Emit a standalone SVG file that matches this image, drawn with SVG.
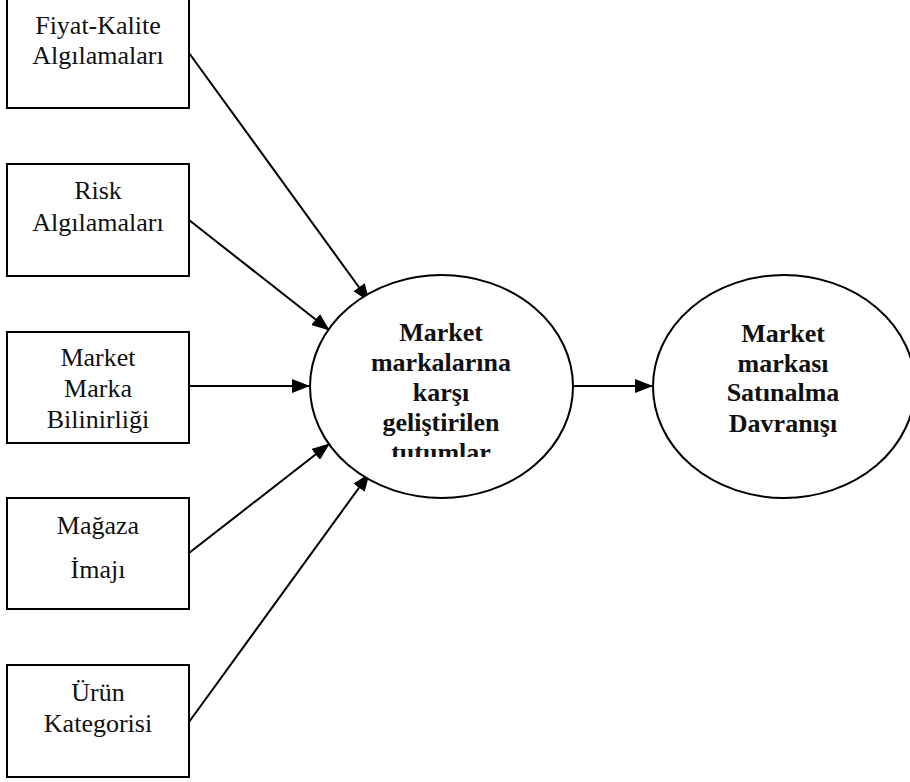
<svg xmlns="http://www.w3.org/2000/svg" width="910" height="782" viewBox="0 0 910 782">
<style>
.box{fill:#fff;stroke:#000;stroke-width:2}
.ell{fill:#fff;stroke:#000;stroke-width:2}
.t{font-family:'Liberation Serif','Times New Roman',serif;font-size:26px;fill:#111;text-anchor:middle}
.b{font-family:'Liberation Serif','Times New Roman',serif;font-size:26px;font-weight:bold;fill:#111;text-anchor:middle}
.c{stroke:#000;stroke-width:2;fill:none;marker-end:url(#ah)}
</style>
<defs>
<marker id="ah" markerWidth="9" markerHeight="7" refX="8.5" refY="3.5" orient="auto" markerUnits="strokeWidth">
<path d="M0,0 L9,3.5 L0,7 Z" fill="#000"/>
</marker>
<clipPath id="cl"><rect x="300" y="270" width="280" height="187"/></clipPath>
</defs>
<rect width="910" height="782" fill="#fff"/>
<g id="connectors">
<line class="c" x1="189" y1="53" x2="369" y2="301"/>
<line class="c" x1="189" y1="220" x2="329" y2="330"/>
<line class="c" x1="189" y1="386" x2="309" y2="386"/>
<line class="c" x1="189" y1="553" x2="329" y2="444"/>
<line class="c" x1="189" y1="722" x2="369" y2="474"/>
<line class="c" x1="573" y1="386" x2="652" y2="386"/>
</g>
<g id="n1"><rect class="box" x="7" y="-2" width="182" height="110"/>
<text class="t" x="98" y="34">Fiyat-Kalite</text><text class="t" x="98" y="64">Algılamaları</text></g>
<g id="n2"><rect class="box" x="7" y="164" width="182" height="112"/>
<text class="t" x="98" y="199">Risk</text><text class="t" x="98" y="231">Algılamaları</text></g>
<g id="n3"><rect class="box" x="7" y="332" width="182" height="111"/>
<text class="t" x="98" y="366">Market</text><text class="t" x="98" y="397">Marka</text><text class="t" x="98" y="428">Bilinirliği</text></g>
<g id="n4"><rect class="box" x="7" y="498" width="182" height="111"/>
<text class="t" x="98" y="534">Mağaza</text><text class="t" x="98" y="578">İmajı</text></g>
<g id="n5"><rect class="box" x="7" y="665" width="182" height="112"/>
<text class="t" x="98" y="701">Ürün</text><text class="t" x="98" y="732">Kategorisi</text></g>
<g id="e1"><ellipse class="ell" cx="441.5" cy="386.5" rx="131.5" ry="111.5"/>
<g clip-path="url(#cl)">
<text class="b" x="441" y="341">Market</text><text class="b" x="441" y="371">markalarına</text><text class="b" x="441" y="401">karşı</text><text class="b" x="441" y="431">geliştirilen</text><text class="b" x="441" y="461">tutumlar</text>
</g></g>
<g id="e2"><ellipse class="ell" cx="784" cy="386.5" rx="131" ry="111.5"/>
<text class="b" x="783" y="342">Market</text><text class="b" x="783" y="372">markası</text><text class="b" x="783" y="401">Satınalma</text><text class="b" x="783" y="432">Davranışı</text></g>
</svg>
